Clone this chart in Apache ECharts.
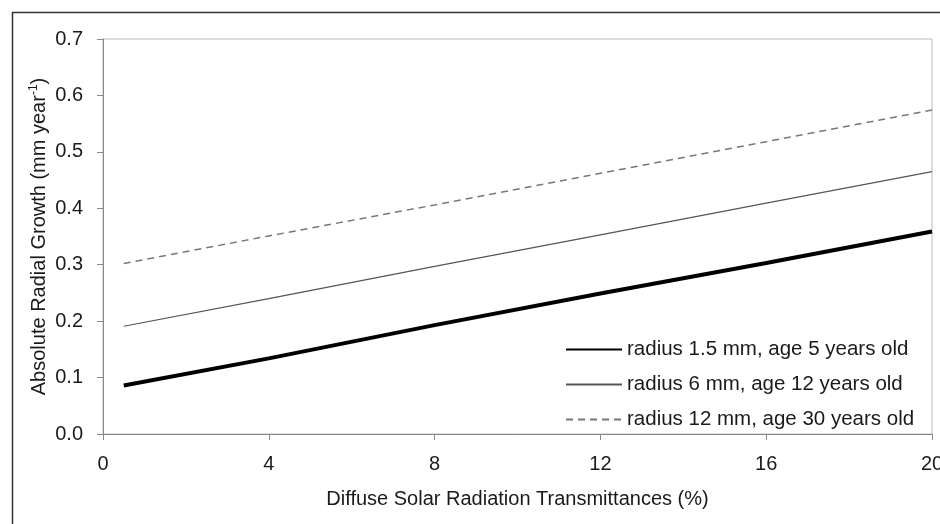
<!DOCTYPE html>
<html>
<head>
<meta charset="utf-8">
<script src="https://cdn.jsdelivr.net/npm/echarts@6/dist/echarts.min.js"></script>
<style>html,body{margin:0;padding:0;background:#fff}#c{width:940px;height:524px}</style>
</head>
<body>
<div id="c"></div>
<script>
const xValues = [0.5, 4, 8, 12, 16, 20];
const seriesNames = ['radius 1.5 mm, age 5 years old', 'radius 6 mm, age 12 years old', 'radius 12 mm, age 30 years old'];
const bold = [0.086, 0.134, 0.193, 0.249, 0.303, 0.359];
const thin = [0.191, 0.240, 0.297, 0.353, 0.409, 0.465];
const dashed = [0.302, 0.351, 0.406, 0.462, 0.518, 0.574];
const xTicks = [0, 4, 8, 12, 16, 20];
const yTicks = [0.0, 0.1, 0.2, 0.3, 0.4, 0.5, 0.6, 0.7];

const font = 'Liberation Sans, Arial, sans-serif';
const pairs = arr => xValues.map((x, i) => [x, arr[i]]);

const chart = echarts.init(document.getElementById('c'), null, {renderer: 'canvas'});
chart.setOption({
  animation: false,
  backgroundColor: '#fff',
  textStyle: {fontFamily: font},
  graphic: [{
    type: 'rect', left: 10, top: 10, shape: {width: 960, height: 540},
    style: {fill: 'none', stroke: '#333', lineWidth: 1.5}, silent: true
  }],
  grid: {left: 103, right: 8, top: 39, bottom: 90, show: true, borderColor: '#bbb', borderWidth: 1,
    containLabel: false, outerBoundsMode: 'none'},
  legend: {
    orient: 'vertical', left: 560, top: 334, itemWidth: 56, itemHeight: 12, itemGap: 14,
    textStyle: {fontFamily: font, fontSize: 20.5, color: '#1a1a1a'},
    itemStyle: {color: 'rgba(0,0,0,0)', borderWidth: 0, opacity: 0},
    data: seriesNames
  },
  xAxis: {
    type: 'value', min: 0, max: 20, interval: 4,
    name: 'Diffuse Solar Radiation Transmittances (%)', nameLocation: 'middle', nameGap: 55,
    nameMoveOverlap: false,
    nameTextStyle: {fontFamily: font, fontSize: 20, color: '#1a1a1a'},
    axisLine: {show: true, lineStyle: {color: '#888', width: 1}},
    axisTick: {show: true, length: 6, lineStyle: {color: '#888'}},
    axisLabel: {fontFamily: font, fontSize: 20, color: '#1a1a1a', margin: 20,
      formatter: v => xTicks.includes(v) ? String(v) : ''},
    splitLine: {show: false}
  },
  yAxis: {
    type: 'value', min: 0, max: 0.7, interval: 0.1,
    name: '{a|Absolute Radial Growth (mm year}{s|-1}{a|)}', nameLocation: 'middle', nameGap: 53,
    nameMoveOverlap: false,
    nameTextStyle: {rich: {
      a: {fontFamily: font, fontSize: 20, color: '#1a1a1a'},
      s: {fontFamily: font, fontSize: 12, color: '#1a1a1a', padding: [0, 0, 10, 0]}
    }},
    axisLine: {show: true, lineStyle: {color: '#888', width: 1}},
    axisTick: {show: true, length: 6, lineStyle: {color: '#888'}},
    axisLabel: {fontFamily: font, fontSize: 20, color: '#1a1a1a', margin: 20,
      formatter: v => v.toFixed(1)},
    splitLine: {show: false}
  },
  series: [
    {name: seriesNames[0], type: 'line', data: pairs(bold), showSymbol: false, symbol: 'none',
      lineStyle: {color: '#000', width: 4}, itemStyle: {color: '#000'}},
    {name: seriesNames[1], type: 'line', data: pairs(thin), showSymbol: false, symbol: 'none',
      lineStyle: {color: '#555', width: 1.2}, itemStyle: {color: '#555'}},
    {name: seriesNames[2], type: 'line', data: pairs(dashed), showSymbol: false, symbol: 'none',
      lineStyle: {color: '#777', width: 1.5, type: [7, 5]}, itemStyle: {color: '#777'}}
  ]
});
</script>
</body>
</html>
